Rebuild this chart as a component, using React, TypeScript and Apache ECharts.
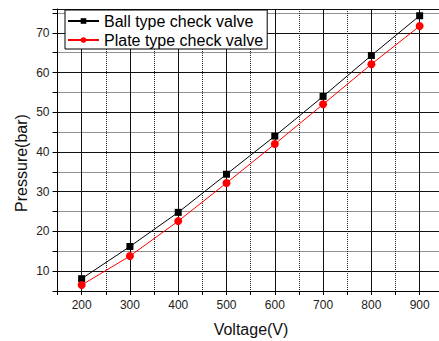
import React, { useEffect, useRef } from "react";
import * as echarts from "echarts";

const voltage = [200, 300, 400, 500, 600, 700, 800, 900];
const ballValve = [8.1, 16.2, 24.8, 34.4, 44.0, 54.0, 64.3, 74.3];
const plateValve = [6.5, 13.8, 22.6, 32.2, 42.0, 52.0, 62.1, 71.7];
const xTickLabels = [200, 300, 400, 500, 600, 700, 800, 900];
const yTickLabels = [10, 20, 30, 40, 50, 60, 70];
const seriesNames = ["Ball type check valve", "Plate type check valve"];

const FONT = "'Liberation Sans', Arial, sans-serif";

export default function App() {
  const ref = useRef<HTMLDivElement>(null);
  useEffect(() => {
    if (!ref.current) return;
    const chart = echarts.init(ref.current, undefined, { renderer: "svg" });
    const grid = { left: 57.5, top: 9, width: 386.3, height: 282 };
    const dotted = { show: true, lineStyle: { color: "#222", width: 1, type: "dotted" as const } };
    const solid = {
      show: true,
      lineStyle: { color: ["rgba(0,0,0,0)", "#111"], width: 1, type: "solid" as const },
    };
    chart.setOption({
      animation: false,
      backgroundColor: "#fff",
      grid: [grid],
      textStyle: { fontFamily: FONT },
      legend: {
        data: seriesNames,
        orient: "vertical",
        left: 65,
        top: 10,
        itemWidth: 31,
        itemHeight: 7,
        itemGap: 1,
        padding: [2, 4, 0, 2],
        backgroundColor: "#fff",
        borderColor: "#000",
        borderWidth: 1,
        textStyle: { fontSize: 16, color: "#000", fontFamily: FONT, lineHeight: 18 },
        z: 10,
      },
      xAxis: [
        {
          type: "value",
          min: 150,
          max: 950,
          interval: 50,
          axisLine: { show: true, lineStyle: { color: "#000", width: 1 } },
          axisTick: { show: true, length: 4, inside: false, lineStyle: { color: "#000" } },
          axisLabel: {
            fontSize: 12,
            color: "#222",
            margin: 8,
            fontFamily: FONT,
            formatter: (v: number) => (xTickLabels.includes(v) ? String(v) : ""),
          },
          splitLine: dotted,
        },
        {
          type: "value",
          position: "bottom",
          min: 150,
          max: 950,
          interval: 50,
          axisLine: { show: false },
          axisTick: { show: false },
          axisLabel: { show: false },
          splitLine: solid,
        },
      ],
      yAxis: [
        {
          type: "value",
          min: 5,
          max: 76,
          interval: 5,
          axisLine: { show: true, lineStyle: { color: "#000", width: 1 } },
          axisTick: { show: true, length: 5, inside: false, lineStyle: { color: "#000" } },
          axisLabel: {
            fontSize: 12,
            color: "#222",
            margin: 8,
            fontFamily: FONT,
            formatter: (v: number) => (yTickLabels.includes(v) ? String(v) : ""),
          },
          splitLine: dotted,
        },
        {
          type: "value",
          position: "left",
          min: 5,
          max: 76,
          interval: 5,
          axisLine: { show: false },
          axisTick: { show: false },
          axisLabel: { show: false },
          splitLine: solid,
        },
      ],
      series: [
        {
          name: seriesNames[0],
          type: "line",
          xAxisIndex: 0,
          yAxisIndex: 0,
          data: voltage.map((v, i) => [v, ballValve[i]]),
          symbol: "rect",
          symbolSize: 7,
          lineStyle: { color: "#000", width: 1 },
          itemStyle: { color: "#000" },
          z: 5,
        },
        {
          name: seriesNames[1],
          type: "line",
          xAxisIndex: 0,
          yAxisIndex: 0,
          data: voltage.map((v, i) => [v, plateValve[i]]),
          symbol: "circle",
          symbolSize: 8,
          lineStyle: { color: "#ff0000", width: 1 },
          itemStyle: { color: "#ff0000" },
          z: 5,
        },
      ],
      graphic: [
        {
          type: "text",
          x: 251,
          y: 329,
          style: {
            text: "Voltage(V)",
            fontSize: 16,
            fontFamily: FONT,
            fill: "#111",
            align: "center",
            verticalAlign: "middle",
          },
        },
        {
          type: "text",
          x: 21,
          y: 163,
          rotation: Math.PI / 2,
          style: {
            text: "Pressure(bar)",
            fontSize: 16,
            fontFamily: FONT,
            fill: "#111",
            align: "center",
            verticalAlign: "middle",
          },
        },
      ],
    });
    return () => chart.dispose();
  }, []);
  return (
    <div
      style={{
        position: "absolute",
        left: 0,
        top: 0,
        width: 439,
        height: 341,
        overflow: "hidden",
        background: "#fff",
      }}
    >
      <div ref={ref} style={{ width: 470, height: 341 }} />
    </div>
  );
}
